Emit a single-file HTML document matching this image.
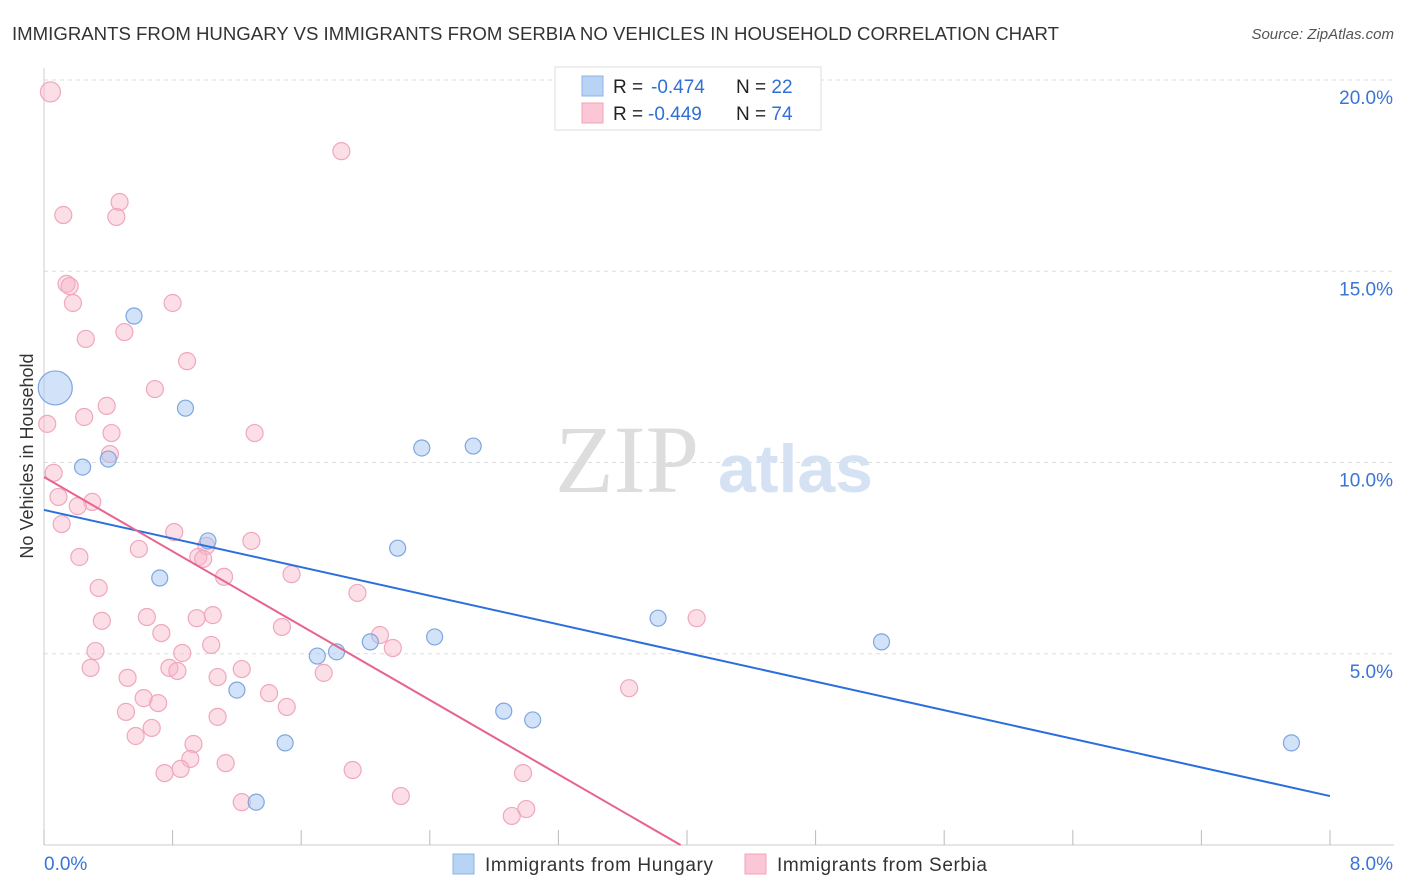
<!DOCTYPE html>
<html><head><meta charset="utf-8"><style>
body{margin:0;background:#fff;font-family:"Liberation Sans",sans-serif;}
svg{display:block}
</style></head><body>
<svg id="chart" width="1406" height="892">
<text x="12" y="40" font-size="18" fill="#333" textLength="1047" lengthAdjust="spacingAndGlyphs">IMMIGRANTS FROM HUNGARY VS IMMIGRANTS FROM SERBIA NO VEHICLES IN HOUSEHOLD CORRELATION CHART</text>
<text x="1394" y="39" font-size="15" fill="#555" font-style="italic" text-anchor="end">Source: ZipAtlas.com</text>
<text x="-456" y="33" transform="rotate(-90)" font-size="18" fill="#333" text-anchor="middle">No Vehicles in Household</text>
<g id="grid"></g>
<g id="wm"><text x="555" y="492" font-family="Liberation Serif" font-size="96" fill="#ddd">ZIP</text><text x="718" y="492" font-size="68" fill="#d4e2f3" font-weight="bold">atlas</text></g>
<g id="pts"></g>
<g id="lines"></g>
<g>
<rect x="555" y="67" width="266" height="63" fill="#fff" stroke="#ddd"/>
<rect x="582" y="76" width="21" height="20" fill="#b9d3f5" stroke="#8ab3e8"/>
<rect x="582" y="103" width="21" height="20" fill="#fbc6d5" stroke="#f0a3ba"/>
<text x="613" y="93" font-size="19" fill="#222">R = <tspan x="651" fill="#2f6fd6">-0.474</tspan><tspan x="736">N = </tspan><tspan fill="#2f6fd6">22</tspan></text>
<text x="613" y="120" font-size="19" fill="#222">R = <tspan x="648" fill="#2f6fd6">-0.449</tspan><tspan x="736">N = </tspan><tspan fill="#2f6fd6">74</tspan></text>
</g>
<g>
<rect x="453" y="854" width="21" height="20" fill="#b9d3f5" stroke="#8ab3e8"/>
<text x="485" y="871" font-size="19" fill="#333" textLength="228">Immigrants from Hungary</text>
<rect x="745" y="854" width="21" height="20" fill="#fbc6d5" stroke="#f0a3ba"/>
<text x="777" y="871" font-size="19" fill="#333" textLength="210">Immigrants from Serbia</text>
</g>
</svg>
<script>
const xTickLabels=["0.0%","8.0%"];
const yTicks=[5,10,15,20];
const yTickLabels=["5.0%","10.0%","15.0%","20.0%"];
const hungaryX=[0.07,0.56,0.88,0.24,0.40,1.02,0.72,1.20,1.32,1.50,1.70,1.82,2.03,2.20,2.35,2.67,2.43,2.86,3.04,3.82,5.21,7.76];
const hungaryY=[11.95,13.83,11.42,9.88,10.09,7.95,6.98,4.05,1.12,2.67,4.94,5.05,5.31,7.76,10.38,10.43,5.44,3.50,3.27,5.93,5.31,2.67];
const serbiaX=[0.04,1.85,0.12,0.47,0.45,0.14,0.16,0.18,0.80,0.26,0.50,0.89,0.69,0.02,0.25,0.39,0.42,1.31,0.41,0.06,0.09,0.30,0.21,0.11,0.81,1.29,1.01,0.59,0.22,0.96,0.99,1.12,1.54,0.34,1.95,0.64,0.95,1.05,0.36,1.48,0.73,2.09,1.04,2.17,0.32,0.86,0.29,0.78,0.83,1.23,1.74,1.08,0.52,1.40,0.62,0.71,1.51,0.51,1.08,0.67,0.57,0.93,0.91,1.13,0.85,0.75,1.92,2.98,1.23,2.22,3.00,2.91,3.64,4.06];
const serbiaY=[19.69,18.14,16.47,16.81,16.42,14.67,14.61,14.17,14.17,13.23,13.41,12.65,11.92,11.01,11.19,11.48,10.77,10.77,10.22,9.73,9.10,8.97,8.86,8.39,8.18,7.95,7.82,7.74,7.53,7.53,7.48,7.01,7.08,6.72,6.59,5.96,5.93,6.01,5.86,5.70,5.54,5.49,5.23,5.15,5.07,5.02,4.63,4.63,4.55,4.60,4.50,4.39,4.37,3.97,3.84,3.71,3.61,3.48,3.35,3.06,2.85,2.64,2.25,2.14,1.99,1.88,1.96,1.88,1.12,1.28,0.94,0.76,4.10,5.93];
const hungaryTrend=[8.76,1.28]; // y at x=0, x=8
const serbiaTrend=[9.62,3.96];  // y at x=0, x where y=0
const NS="http://www.w3.org/2000/svg";
const X=v=>44+v*160.75, Y=v=>845-v*38.25;
function mk(t,a,p){const e=document.createElementNS(NS,t);for(const k in a)e.setAttribute(k,a[k]);p.appendChild(e);return e;}
const grid=document.getElementById('grid');
yTicks.forEach((t,i)=>{
 const l=mk('line',{x1:44,x2:1394,y1:Y(t),y2:Y(t),stroke:'#ddd','stroke-dasharray':'4,4'},grid);
 
 
 const tx=mk('text',{x:1393,y:Y(t)+24,'font-size':19,fill:'#3a74d6','text-anchor':'end'},grid);
 tx.textContent=yTickLabels[i];
 
 
});
const ax=mk('line',{x1:44,x2:44,y1:68,y2:845,stroke:'#ccc'},grid);


const bx=mk('line',{x1:44,x2:1394,y1:845,y2:845,stroke:'#ccc'},grid);


for(let i=0;i<=10;i++){const t=mk('line',{x1:X(i*0.8),x2:X(i*0.8),y1:830,y2:845,stroke:'#bbb'},grid);
 
 }
[[0,'start',44],[8,'end',1393]].forEach((d,i)=>{const t=mk('text',{x:d[2],y:870,'font-size':19,fill:'#3a74d6','text-anchor':d[1]},grid);t.textContent=xTickLabels[i];
 
 });
const pts=document.getElementById('pts');
serbiaX.forEach((x,i)=>{const c=mk('circle',{cx:X(x),cy:Y(serbiaY[i]),r:i==0?10:8.5,fill:'rgba(248,182,202,0.45)',stroke:'#f0a7bd','stroke-width':1.2},pts);
 
 });
hungaryX.forEach((x,i)=>{const c=mk('circle',{cx:X(x),cy:Y(hungaryY[i]),r:i==0?17:8,fill:'rgba(165,198,242,0.5)',stroke:'#7ea7df','stroke-width':1.2},pts);
 
 });
const lines=document.getElementById('lines');
const hl=mk('line',{x1:X(0),y1:Y(hungaryTrend[0]),x2:X(8),y2:Y(hungaryTrend[1]),stroke:'#2a6fdb','stroke-width':2},lines);


const sl=mk('line',{x1:X(0),y1:Y(serbiaTrend[0]),x2:X(serbiaTrend[1]),y2:Y(0),stroke:'#e8638f','stroke-width':2},lines);


</script>
</body></html>
